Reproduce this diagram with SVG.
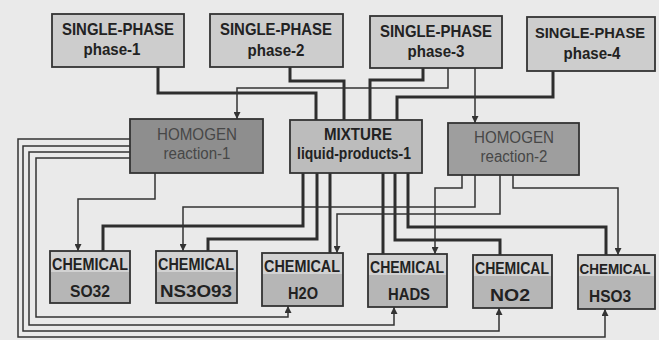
<svg xmlns="http://www.w3.org/2000/svg" width="659" height="340" viewBox="0 0 659 340">
<style>
.bg{fill:#eaeaea}
.box{stroke:#333;stroke-width:1.8}
.sp{fill:#cdcdcd}
.mix{fill:#bcbcbc}
.r1{fill:#8e8e8e}
.r2{fill:#9e9e9e}
.chem{fill:#b6b6b6}
.band{fill:#d2d2d2}
text{font-family:"Liberation Sans",Arial,sans-serif;text-anchor:middle;fill:#222}
.b{font-weight:bold;font-size:17px}
.s{font-size:15px}
.rt{font-size:16px;fill:#474747}
.thick{fill:none;stroke:#2e2e2e;stroke-width:3}
.thin{fill:none;stroke:#333;stroke-width:1.5}
</style>
<defs>
<marker id="arr" viewBox="0 0 10 10" refX="10" refY="5" markerWidth="8" markerHeight="7" markerUnits="userSpaceOnUse" orient="auto">
<path d="M0,0 L10,5 L0,10 z" fill="#333"/>
</marker>
</defs>
<rect class="bg" x="0" y="0" width="659" height="340"/>

<g id="connectors">
<path class="thick" d="M158,67 V93 H316 V120"/>
<path class="thick" d="M290,67 V81 H344 V120"/>
<path class="thick" d="M423,68 V80 H370 V120"/>
<path class="thick" d="M553,71 V97 H397 V120"/>
<path class="thick" d="M303,173 V226 H103 V251"/>
<path class="thick" d="M317,173 V239 H208 V251"/>
<path class="thick" d="M330,173 V253"/>
<path class="thick" d="M383,173 V254"/>
<path class="thick" d="M395,173 V240 H500 V255"/>
<path class="thick" d="M408,173 V227 H606 V255"/>
<path class="thin" marker-end="url(#arr)" d="M448,68 V88 H237 V119"/>
<path class="thin" marker-end="url(#arr)" d="M475,68 V123"/>
<path class="thin" marker-end="url(#arr)" d="M155,173 V199 H78 V251"/>
<path class="thin" marker-end="url(#arr)" d="M475,175 V207 H183 V251"/>
<path class="thin" marker-end="url(#arr)" d="M500,175 V214 H337 V253"/>
<path class="thin" marker-end="url(#arr)" d="M462,175 V188 H435 V254"/>
<path class="thin" marker-end="url(#arr)" d="M513,175 V188 H618 V255"/>
<path class="thin" marker-end="url(#arr)" d="M130,158 H36 V317 H288 V306"/>
<path class="thin" marker-end="url(#arr)" d="M130,152 H29 V325 H394 V307"/>
<path class="thin" marker-end="url(#arr)" d="M130,146 H23 V331 H499 V308"/>
<path class="thin" marker-end="url(#arr)" d="M130,139 H18 V337 H605 V309"/>
</g>

<g id="phase-1">
<rect class="box sp" x="52" y="14" width="132" height="53"/>
<text class="b" x="118" y="35" textLength="112" lengthAdjust="spacingAndGlyphs">SINGLE-PHASE</text>
<text class="b" x="112" y="55" textLength="57" lengthAdjust="spacingAndGlyphs">phase-1</text>
</g>
<g id="phase-2">
<rect class="box sp" x="210" y="14" width="133" height="53"/>
<text class="b" x="276" y="35" textLength="112" lengthAdjust="spacingAndGlyphs">SINGLE-PHASE</text>
<text class="b" x="276" y="56" textLength="57" lengthAdjust="spacingAndGlyphs">phase-2</text>
</g>
<g id="phase-3">
<rect class="box sp" x="370" y="16" width="132" height="52"/>
<text class="b" x="436" y="37" textLength="112" lengthAdjust="spacingAndGlyphs">SINGLE-PHASE</text>
<text class="b" x="436" y="57" textLength="57" lengthAdjust="spacingAndGlyphs">phase-3</text>
</g>
<g id="phase-4">
<rect class="box sp" x="527" y="17" width="128" height="54"/>
<text class="b s" x="590" y="38" textLength="110" lengthAdjust="spacingAndGlyphs">SINGLE-PHASE</text>
<text class="b" x="592" y="59" textLength="57" lengthAdjust="spacingAndGlyphs">phase-4</text>
</g>

<g id="reaction-1">
<rect class="box r1" x="130" y="119" width="133" height="54"/>
<text class="rt" x="197" y="140" textLength="80" lengthAdjust="spacingAndGlyphs">HOMOGEN</text>
<text class="rt" x="197" y="159" textLength="67" lengthAdjust="spacingAndGlyphs">reaction-1</text>
</g>
<g id="liquid-products-1">
<rect class="box mix" x="290" y="120" width="132" height="53"/>
<text class="b" x="358" y="140" textLength="68" lengthAdjust="spacingAndGlyphs">MIXTURE</text>
<text class="b" x="354" y="159" textLength="114" lengthAdjust="spacingAndGlyphs">liquid-products-1</text>
</g>
<g id="reaction-2">
<rect class="box r2" x="448" y="123" width="131" height="52"/>
<text class="rt" x="514" y="143" textLength="80" lengthAdjust="spacingAndGlyphs">HOMOGEN</text>
<text class="rt" x="514" y="162" textLength="67" lengthAdjust="spacingAndGlyphs">reaction-2</text>
</g>

<g id="SO32">
<rect class="box chem" x="50" y="251" width="80" height="52"/>
<rect class="band" x="51" y="252" width="78" height="20"/>
<text class="b" x="90" y="270" textLength="76" lengthAdjust="spacingAndGlyphs">CHEMICAL</text>
<text class="b" x="90" y="297" textLength="40" lengthAdjust="spacingAndGlyphs">SO32</text>
</g>
<g id="NS3O93">
<rect class="box chem" x="156" y="251" width="81" height="52"/>
<rect class="band" x="157" y="252" width="79" height="20"/>
<text class="b" x="196" y="270" textLength="76" lengthAdjust="spacingAndGlyphs">CHEMICAL</text>
<text class="b" x="196" y="297" textLength="72" lengthAdjust="spacingAndGlyphs">NS3O93</text>
</g>
<g id="H2O">
<rect class="box chem" x="262" y="253" width="81" height="53"/>
<rect class="band" x="263" y="254" width="79" height="20"/>
<text class="b" x="302" y="272" textLength="76" lengthAdjust="spacingAndGlyphs">CHEMICAL</text>
<text class="b" x="303" y="299" textLength="30" lengthAdjust="spacingAndGlyphs">H2O</text>
</g>
<g id="HADS">
<rect class="box chem" x="368" y="254" width="79" height="53"/>
<rect class="band" x="369" y="255" width="77" height="20"/>
<text class="b" x="407" y="273" textLength="74" lengthAdjust="spacingAndGlyphs">CHEMICAL</text>
<text class="b" x="409" y="300" textLength="42" lengthAdjust="spacingAndGlyphs">HADS</text>
</g>
<g id="NO2">
<rect class="box chem" x="473" y="255" width="79" height="53"/>
<rect class="band" x="474" y="256" width="77" height="20"/>
<text class="b" x="512" y="274" textLength="74" lengthAdjust="spacingAndGlyphs">CHEMICAL</text>
<text class="b" x="510" y="301" textLength="40" lengthAdjust="spacingAndGlyphs">NO2</text>
</g>
<g id="HSO3">
<rect class="box chem" x="578" y="255" width="77" height="54"/>
<rect class="band" x="579" y="256" width="75" height="20"/>
<text class="b s" x="615" y="274" textLength="71" lengthAdjust="spacingAndGlyphs">CHEMICAL</text>
<text class="b" x="610" y="302" textLength="42" lengthAdjust="spacingAndGlyphs">HSO3</text>
</g>
</svg>
